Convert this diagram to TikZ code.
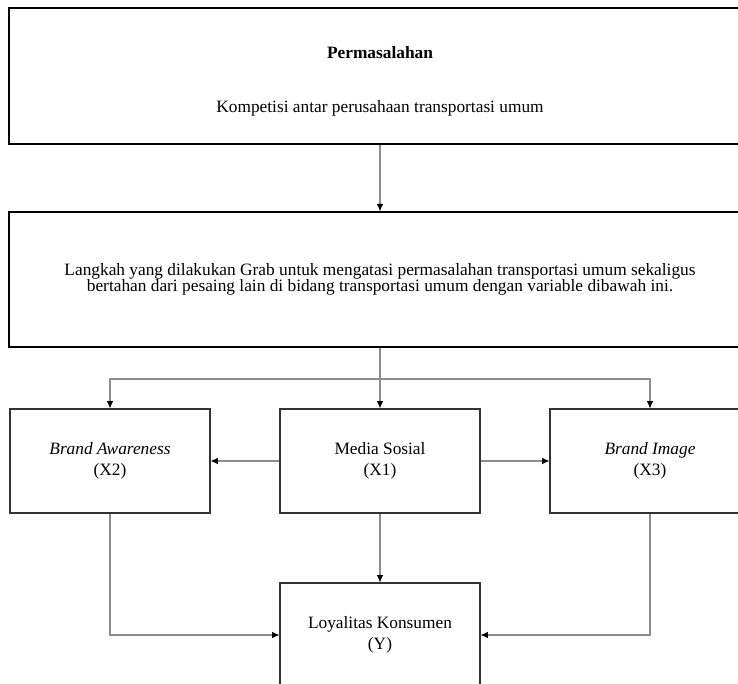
\documentclass[tikz,border=0pt]{standalone}
\usepackage{fontspec}
\setmainfont{Liberation Serif}
\usetikzlibrary{arrows.meta}

\tikzset{
  bigbox/.style={draw=black, line width=1.3pt, minimum width=556pt,
    minimum height=101pt, align=center, inner sep=0pt,
    font=\fontsize{13}{12.2}\selectfont},
  varbox/.style={draw=black!80, line width=0.8pt, minimum width=150pt,
    minimum height=78pt, align=center, inner sep=0pt,
    font=\fontsize{13}{15.5}\selectfont},
  label/.style={font=\fontsize{13}{13}\selectfont, inner sep=0pt},
  link/.style={draw=black!45, line width=0.8pt,
    -{Latex[black,length=5.5pt,width=5pt]}},
  plain/.style={draw=black!45, line width=0.8pt}
}

\begin{document}
\begin{tikzpicture}[x=0.75pt,y=-0.75pt]
\useasboundingbox (0,0) rectangle (738,683);
\clip (0,0) rectangle (738,683);

% problem box, its two texts set apart
\node[bigbox, line width=1.6pt, minimum height=102pt] (prob) at (380,76) {};
\node[label, font=\fontsize{13}{13}\selectfont\bfseries] (probtitle) at (380,53) {Permasalahan};
\node[label] (probtext) at (380,108) {Kompetisi antar perusahaan transportasi umum};

% what Grab does
\node[bigbox] (step) at (380,279.5)
  {Langkah yang dilakukan Grab untuk mengatasi permasalahan transportasi umum sekaligus\\
   bertahan dari pesaing lain di bidang transportasi umum dengan variable dibawah ini.};

% the variables
\node[varbox] (x1) at (380,461) {Media Sosial\\(X1)};
\node[varbox] (x2) at (110,461) {\textit{Brand Awareness}\\(X2)};
\node[varbox] (x3) at (650,461) {\textit{Brand Image}\\(X3)};
\node[varbox] (y) at (380,635) {Loyalitas Konsumen\\(Y)};

\coordinate (split) at (380,379);

\draw[link] (prob) -- (step);
\draw[plain] (step) -- (split);
\draw[link] (split) -- (x1);
\draw[link] (split) -| (x2);
\draw[link] (split) -| (x3);

\draw[link] (x1) -- (x2);
\draw[link] (x1) -- (x3);
\draw[link] (x1) -- (y);
\draw[link] (x2) |- (y);
\draw[link] (x3) |- (y);
\end{tikzpicture}
\end{document}
